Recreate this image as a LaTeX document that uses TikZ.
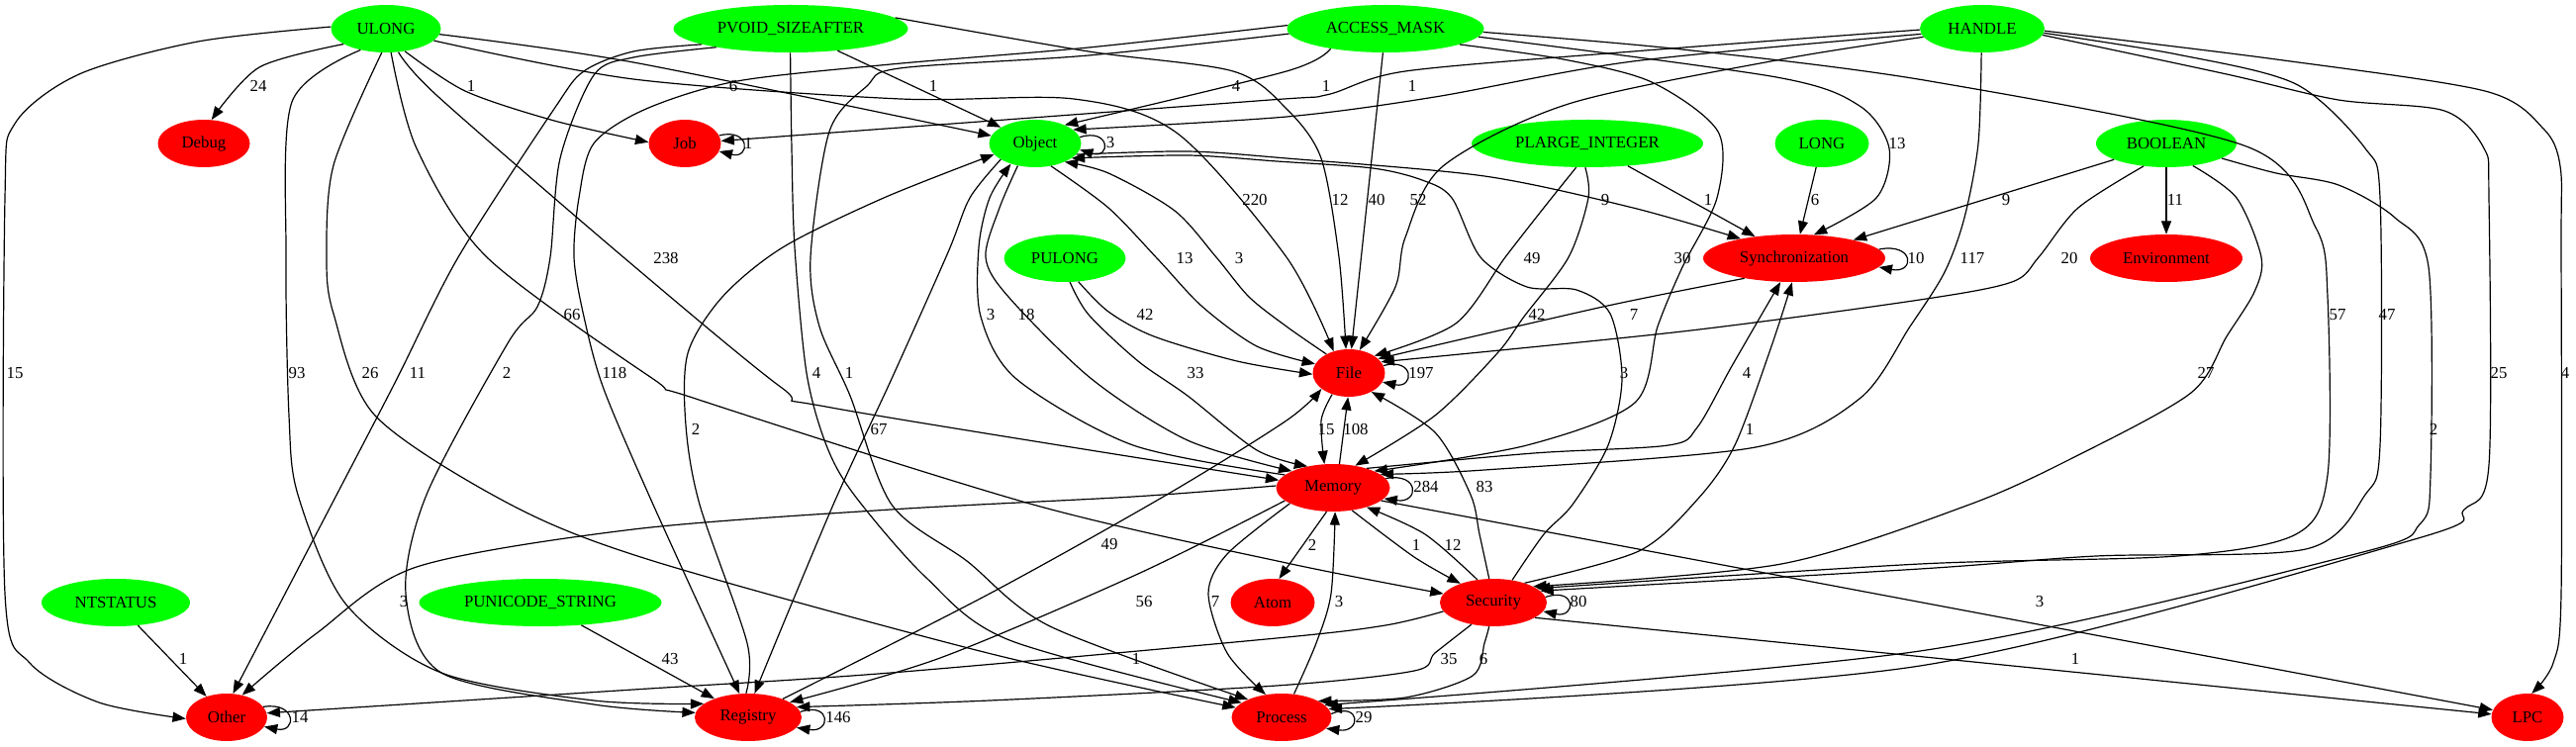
\documentclass[tikz,border=0pt]{standalone}
\usepackage{fontspec}
\setmainfont{Liberation Serif}
\usetikzlibrary{shapes.geometric,arrows.meta}
\definecolor{gvgreen}{RGB}{0,255,0}
\definecolor{gvred}{RGB}{255,0,0}
\newcommand\nf{\fontsize{12.6}{14}\selectfont}
\newcommand\gvloop[5]{\draw[conn] (#1.#4) .. controls ({#2+30},{#3-16}) and ({#2+30},{#3+16}) .. (#1.#5);}
\begin{document}
\begin{tikzpicture}[x=0.75pt,y=-0.75pt,
 base/.style={ellipse, minimum height=36pt, inner sep=0pt, font=\nf},
 gn/.style={base, fill=gvgreen},
 rn/.style={base, fill=gvred},
 conn/.style={line width=0.9pt, -{Triangle[length=10pt,width=7.5pt]}},
 lab/.style={font=\nf, inner sep=0pt}]
\fill[white] (0,0) rectangle (2603,755);
\useasboundingbox (0,0) rectangle (2603,755);
% nodes
\node[gn, minimum width=83.25pt] (ulong) at (390,29) {ULONG};
\node[gn, minimum width=177.75pt] (pvoid) at (799,29) {PVOID\_SIZEAFTER};
\node[gn, minimum width=149.25pt] (access) at (1400,29) {ACCESS\_MASK};
\node[gn, minimum width=94.5pt] (handle) at (2003,29) {HANDLE};
\node[rn, minimum width=69.75pt] (debug) at (206,145) {Debug};
\node[rn, minimum width=54.75pt] (job) at (692,145) {Job};
\node[gn, minimum width=69.75pt] (object) at (1046,145) {Object};
\node[gn, minimum width=175.5pt] (plarge) at (1604,145) {PLARGE\_INTEGER};
\node[gn, minimum width=71.25pt] (longn) at (1841,145) {LONG};
\node[gn, minimum width=106.5pt] (boolean) at (2189,145) {BOOLEAN};
\node[gn, minimum width=92.25pt] (pulong) at (1076,261) {PULONG};
\node[rn, minimum width=138pt] (sync) at (1813,261) {Synchronization};
\node[rn, minimum width=115.5pt] (env) at (2189,261) {Environment};
\node[rn, minimum width=54.75pt] (file) at (1363,377) {File};
\node[rn, minimum width=86.25pt] (memory) at (1347,493) {Memory};
\node[gn, minimum width=112.5pt] (ntstatus) at (117,609) {NTSTATUS};
\node[gn, minimum width=183.75pt] (punicode) at (546,609) {PUNICODE\_STRING};
\node[rn, minimum width=63.75pt] (atom) at (1286,609) {Atom};
\node[rn, minimum width=81pt] (security) at (1509,609) {Security};
\node[rn, minimum width=61.5pt] (other) at (229,725) {Other};
\node[rn, minimum width=81pt] (registry) at (756,725) {Registry};
\node[rn, minimum width=75.75pt] (process) at (1295,725) {Process};
\node[rn, minimum width=54.75pt] (lpc) at (2554,725) {LPC};
% ULONG
\draw[conn] plot[smooth] coordinates {(ulong.200) (262,68) (debug.72)};
\draw[conn] plot[smooth] coordinates {(ulong.-50) (470,92) (560,122) (job.178)};
\draw[conn] plot[smooth] coordinates {(ulong.-6) (640,63) (object.170)};
\draw[conn] plot[smooth] coordinates {(ulong.-14) (640,80) (910,100) (1085,100) (1190,135) (1300,260) (file.125)};
\draw[conn] plot[smooth] coordinates {(ulong.-62) (442,97) (630,260) (790,392) (840,412) (memory.172)};
\draw[conn] plot[smooth] coordinates {(ulong.-78) (421,150) (492,260) (660,383) (703,403) (1044,510) (1300,569) (security.170)};
\draw[conn] plot[smooth] coordinates {(ulong.-100) (337,167) (330,260) (337,317) (379,420) (516,510) (660,567) (998,660) (process.168)};
\draw[conn] plot[smooth] coordinates {(ulong.-140) (295,103) (289,260) (292,420) (301,500) (349,610) (446,680) (600,708) (registry.163)};
\draw[conn] plot[smooth] coordinates {(ulong.178) (200,42) (80,75) (15,125) (5,200) (5,600) (30,670) (100,710) (other.182)};
% PVOID_SIZEAFTER
\draw[conn] (pvoid) -- (object);
\draw[conn] plot[smooth] coordinates {(pvoid.190) (640,52) (590,72) (560,110) (463,260) (400,385) (335,510) (other.75)};
\draw[conn] plot[smooth] coordinates {(pvoid.194) (640,58) (600,76) (566,160) (556,260) (543,310) (513,347) (431,500) (410,600) (446,680) (600,712) (registry.175)};
\draw[conn] plot[smooth] coordinates {(pvoid.-91) (800,150) (803,250) (815,377) (835,450) (863,500) (935,583) (1020,647) (process.160)};
\draw[conn] plot[smooth] coordinates {(pvoid.6) (1100,52) (1246,72) (1300,110) (1335,160) (1353,260) (file.97)};
% ACCESS_MASK
\draw[conn] plot[smooth] coordinates {(access.200) (1300,72) (object.32)};
\draw[conn] (access) -- (file);
\draw[conn] plot[smooth] coordinates {(access.178) (1100,48) (900,65) (745,82) (653,110) (600,145) (585,200) (580,260) (590,320) (610,393) (660,510) (registry.110)};
\draw[conn] plot[smooth] coordinates {(access.183) (1100,56) (909,69) (876,87) (838,133) (819,260) (828,330) (859,400) (901,510) (977,567) (1061,633) (process.152)};
\draw[conn] plot[smooth] coordinates {(access.-12) (1580,60) (1669,83) (1736,133) (1735,200) (1700,270) (1675,330) (1652,407) (1543,450) (memory.22)};
\draw[conn] plot[smooth] coordinates {(access.-5) (1795,78) (1879,107) (1909,150) (1896,200) (sync.50)};
\draw[conn] plot[smooth] coordinates {(access.-2) (1700,50) (1950,82) (2270,148) (2340,230) (2352,300) (2352,480) (2320,540) (2200,562) (1940,570) (security.18)};
% HANDLE
\draw[conn] plot[smooth] coordinates {(handle.181) (1650,52) (1420,72) (1340,96) (1270,102) (job.4)};
\draw[conn] plot[smooth] coordinates {(handle.185) (1650,62) (1450,98) (1300,118) (object.20)};
\draw[conn] plot[smooth] coordinates {(handle.188) (1800,60) (1585,105) (1458,168) (1420,240) (1410,290) (file.65)};
\draw[conn] plot[smooth] coordinates {(handle.-92) (1999,145) (1985,220) (1965,275) (1930,330) (1879,403) (1774,452) (1500,475) (memory.16)};
\draw[conn] plot[smooth] coordinates {(handle.-4) (2200,55) (2320,85) (2390,150) (2405,200) (2405,450) (2390,500) (2330,555) (2118,562) (1940,575) (security.14)};
\draw[conn] plot[smooth] coordinates {(handle.-6) (2250,75) (2363,101) (2470,112) (2510,150) (2515,200) (2515,470) (2490,515) (2440,545) (1940,673) (process.10)};
\draw[conn] plot[smooth] coordinates {(handle.-2) (2300,60) (2511,92) (2570,130) (2587,168) (2588,250) (2588,600) (2580,670) (lpc.80)};
% Job / Object
\gvloop{job}{728.5}{145}{13}{-13}
\gvloop{object}{1092.5}{145}{8}{-8}
\draw[conn] plot[smooth] coordinates {(object.-55) (1120,210) (1170,262) (1215,310) (1270,350) (file.165)};
\draw[conn] plot[smooth] coordinates {(object.-15) (1200,153) (1300,160) (1500,178) (1650,210) (sync.160)};
\draw[conn] plot[smooth] coordinates {(object.-128) (1010,210) (996,260) (1019,300) (1103,383) (1200,445) (memory.158)};
\draw[conn] plot[smooth] coordinates {(object.-155) (980,200) (958,255) (900,385) (842,510) (registry.75)};
% PLARGE_INTEGER, LONG, BOOLEAN, PULONG
\draw[conn] plot[smooth] coordinates {(plarge.-115) (1560,210) (1521,260) (1471,327) (file.34)};
\draw[conn] plot[smooth] coordinates {(plarge.-95) (1605,200) (1585,260) (1540,320) (1513,357) (1450,420) (memory.45)};
\draw[conn] (plarge) -- (sync);
\draw[conn] (longn) -- (sync);
\draw[conn] (boolean) -- (sync);
\draw[conn] (boolean) -- (env);
\draw[conn] plot[smooth] coordinates {(boolean.-135) (2100,210) (2060,260) (2033,285) (1940,303) (1700,335) (file.19)};
\draw[conn] plot[smooth] coordinates {(boolean.-40) (2260,200) (2285,260) (2278,295) (2250,340) (2214,397) (2100,460) (1990,510) (1800,570) (security.22)};
\draw[conn] plot[smooth] coordinates {(boolean.-15) (2300,175) (2363,187) (2420,220) (2454,270) (2456,480) (2445,530) (2380,560) (1940,658) (process.16)};
\draw[conn] plot[smooth] coordinates {(pulong.-60) (1120,315) (1166,340) (1250,365) (file.182)};
\draw[conn] plot[smooth] coordinates {(pulong.-78) (1100,318) (1150,365) (1200,400) (1270,455) (memory.140)};
% Synchronization, File
\gvloop{sync}{1905}{261}{6}{-6}
\draw[conn] plot[smooth] coordinates {(sync.-158) (1620,310) (file.26)};
\gvloop{file}{1399.5}{377}{12}{-15}
\draw[conn] plot[smooth] coordinates {(file.140) (1300,330) (1262,300) (1229,260) (1187,213) (1120,175) (object.-32)};
\draw[conn] plot[smooth] coordinates {(file.-128) (1335,425) (memory.110)};
\draw[conn] (memory.75) -- (file.-92);
% Memory
\gvloop{memory}{1404.5}{493}{10}{-12}
\draw[conn] plot[smooth] coordinates {(memory.165) (1145,450) (1027,383) (991,320) (989,250) (1000,200) (object.-140)};
\draw[conn] plot[smooth] coordinates {(memory.178) (1145,502) (900,515) (640,535) (421,573) (320,640) (other.55)};
\draw[conn] plot[smooth] coordinates {(memory.-165) (1150,580) (950,665) (registry.20)};
\draw[conn] plot[smooth] coordinates {(memory.-160) (1240,560) (1221,600) (1240,660) (process.125)};
\draw[conn] (memory.-105) -- (atom.75);
\draw[conn] plot[smooth] coordinates {(memory.-50) (1429,563) (security.150)};
\draw[conn] plot[smooth] coordinates {(memory.30) (1550,458) (1686,450) (1715,432) (1750,370) (sync.-120)};
\draw[conn] (memory.-15) -- (lpc.168);
% Security
\gvloop{security}{1563}{609}{6}{-10}
\draw[conn] plot[smooth] coordinates {(security.125) (1440,540) (memory.-30)};
\draw[conn] plot[smooth] coordinates {(security.50) (1560,540) (1589,510) (1625,450) (1639,383) (1627,317) (1593,293) (1543,290) (1496,260) (1467,200) (1437,182) (1387,170) (1290,163) (1200,157) (object.-22)};
\draw[conn] plot[smooth] coordinates {(security.32) (1656,557) (1715,505) (1753,450) (1790,350) (sync.-95)};
\draw[conn] plot[smooth] coordinates {(security.100) (1495,540) (1486,500) (1450,437) (file.-40)};
\draw[conn] plot[smooth] coordinates {(security.190) (1400,632) (1290,645) (900,680) (640,697) (other.6)};
\draw[conn] plot[smooth] coordinates {(security.-135) (1450,660) (1429,678) (1290,693) (1000,708) (registry.12)};
\draw[conn] plot[smooth] coordinates {(security.-100) (1500,650) (1488,683) (1420,705) (process.24)};
\draw[conn] (security.-20) -- (lpc.175);
% Registry, Process, Other
\gvloop{registry}{810}{725}{6}{-12}
\draw[conn] plot[smooth] coordinates {(registry.95) (755,650) (707,510) (693,430) (695,357) (730,300) (791,250) (893,200) (object.-165)};
\draw[conn] plot[smooth] coordinates {(registry.28) (1000,600) (1179,500) (1300,425) (file.-150)};
\gvloop{process}{1345.5}{725}{4}{-14}
\draw[conn] plot[smooth] coordinates {(process.62) (1330,650) (1345,600) (memory.-85)};
\draw[conn] (ntstatus) -- (other);
\draw[conn] (punicode) -- (registry);
\gvloop{other}{270}{725}{16}{-14}
% labels
\node[lab] (l1) at (261,87) {24};
\node[lab] (l2) at (476,87) {1};
\node[lab] (l3) at (741,87) {6};
\node[lab] (l4) at (943,87) {1};
\node[lab] (l5) at (1249,87) {4};
\node[lab] (l6) at (1340,87) {1};
\node[lab] (l7) at (1427,87) {1};
\node[lab] (l8) at (756,145) {1};
\node[lab] (l9) at (1122,144) {3};
\node[lab] (l10) at (1268,202) {220};
\node[lab] (l11) at (1354,202) {12};
\node[lab] (l12) at (1391,202) {40};
\node[lab] (l13) at (1433,202) {52};
\node[lab] (l14) at (1622,202) {9};
\node[lab] (l15) at (1726,202) {1};
\node[lab] (l16) at (1834,202) {6};
\node[lab] (l17) at (1917,145) {13};
\node[lab] (l18) at (2027,202) {9};
\node[lab] (l19) at (2198,202) {11};
\node[lab] (l20) at (673,261) {238};
\node[lab] (l21) at (1197,261) {13};
\node[lab] (l22) at (1252,261) {3};
\node[lab] (l23) at (1548,261) {49};
\node[lab] (l24) at (1700,261) {30};
\node[lab] (l25) at (1936,261) {10};
\node[lab] (l26) at (1993,261) {117};
\node[lab] (l27) at (2091,261) {20};
\node[lab] (l28) at (578,318) {66};
\node[lab] (l29) at (1001,318) {3};
\node[lab] (l30) at (1037,318) {18};
\node[lab] (l31) at (1157,318) {42};
\node[lab] (l32) at (1553,318) {42};
\node[lab] (l33) at (1651,318) {7};
\node[lab] (l34) at (2362,318) {57};
\node[lab] (l35) at (2412,318) {47};
\node[lab] (l36) at (15,377) {15};
\node[lab] (l37) at (300,377) {93};
\node[lab] (l38) at (374,377) {26};
\node[lab] (l39) at (422,377) {11};
\node[lab] (l40) at (512,377) {2};
\node[lab] (l41) at (621,377) {118};
\node[lab] (l42) at (825,377) {4};
\node[lab] (l43) at (858,377) {1};
\node[lab] (l44) at (1208,377) {33};
\node[lab] (l45) at (1436,377) {197};
\node[lab] (l46) at (1641,377) {3};
\node[lab] (l47) at (1765,377) {4};
\node[lab] (l48) at (2229,377) {27};
\node[lab] (l49) at (2525,377) {25};
\node[lab] (l50) at (2592,377) {4};
\node[lab] (l51) at (703,434) {2};
\node[lab] (l52) at (888,434) {67};
\node[lab] (l53) at (1340,434) {15};
\node[lab] (l54) at (1370,434) {108};
\node[lab] (l55) at (1768,434) {1};
\node[lab] (l56) at (2459,434) {2};
\node[lab] (l57) at (1441,492) {284};
\node[lab] (l58) at (1500,492) {83};
\node[lab] (l59) at (1121,550) {49};
\node[lab] (l60) at (1326,551) {2};
\node[lab] (l61) at (1431,551) {1};
\node[lab] (l62) at (1468,551) {12};
\node[lab] (l63) at (408,608) {3};
\node[lab] (l64) at (1156,608) {56};
\node[lab] (l65) at (1228,608) {7};
\node[lab] (l66) at (1353,608) {3};
\node[lab] (l67) at (1595,608) {80};
\node[lab] (l68) at (2061,608) {3};
\node[lab] (l69) at (185,666) {1};
\node[lab] (l70) at (677,666) {43};
\node[lab] (l71) at (1148,666) {1};
\node[lab] (l72) at (1464,666) {35};
\node[lab] (l73) at (1499,666) {6};
\node[lab] (l74) at (2097,666) {1};
\node[lab] (l75) at (303,725) {14};
\node[lab] (l76) at (847,725) {146};
\node[lab] (l77) at (1378,725) {29};
\end{tikzpicture}
\end{document}
